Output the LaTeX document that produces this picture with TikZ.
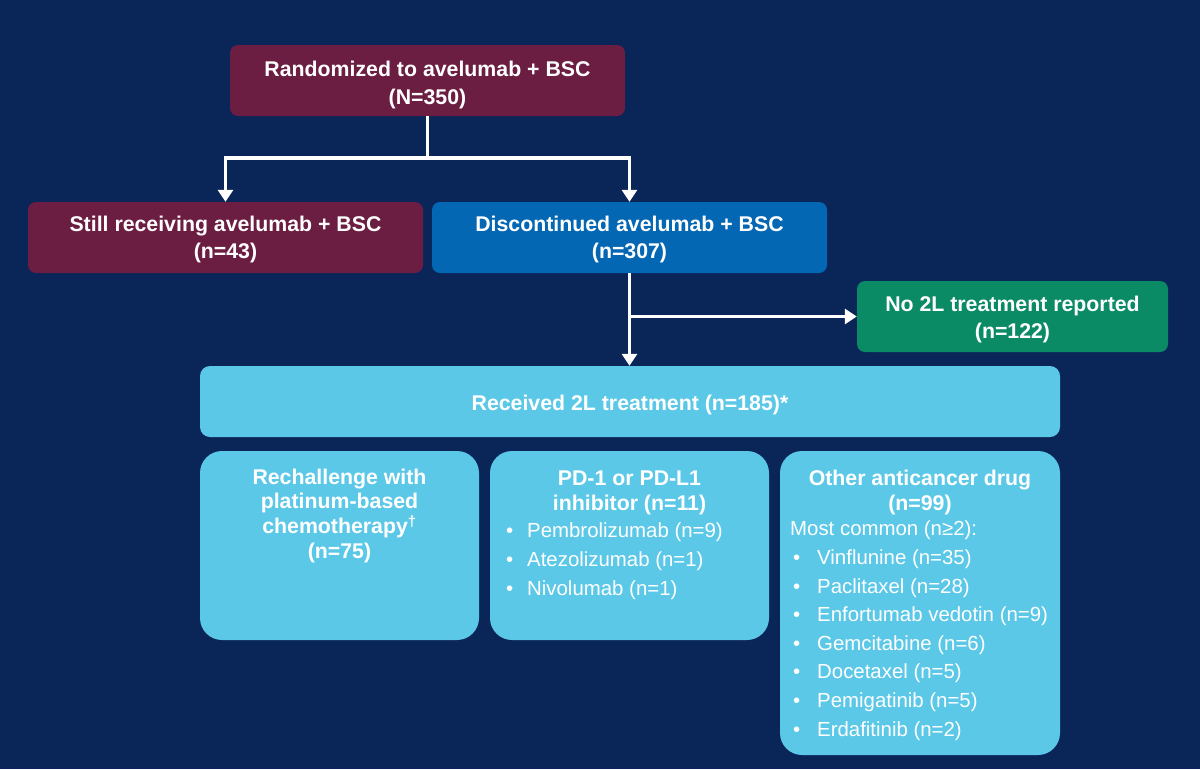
\documentclass[tikz,border=0pt]{standalone}
\usepackage{fontspec}
\setmainfont{Liberation Sans}
\usetikzlibrary{arrows.meta,calc}
\definecolor{bg}{HTML}{0A2558}
\definecolor{maroon}{HTML}{6B1E42}
\definecolor{dblue}{HTML}{0467B3}
\definecolor{dgreen}{HTML}{0B8A66}
\definecolor{lblue}{HTML}{5BC8E8}
\begin{document}
\begin{tikzpicture}[x=1pt,y=-1pt,
  box/.style={rounded corners=8pt, inner sep=0pt},
  bigbox/.style={rounded corners=22pt, inner sep=0pt, fill=lblue},
  head/.style={anchor=base, inner sep=0pt, text=white, align=center,
    font=\bfseries\fontsize{21.3}{27.5}\selectfont},
  title/.style={anchor=base, inner sep=0pt, text=white, align=center,
    font=\bfseries\fontsize{21.3}{24.8}\selectfont},
  list/.style={anchor=base west, inner sep=0pt, text=white, align=left,
    font=\fontsize{20.4}{28.6}\selectfont},
  conn/.style={draw=white, line width=3.5pt, -{Triangle[width=15pt,length=12pt]}}]
\fill[bg] (0,0) rectangle (1200,769);
\useasboundingbox (0,0) rectangle (1200,769);

\node[box, fill=maroon, minimum width=395pt, minimum height=71pt] (top) at (427.5,80.5) {};
\node[box, fill=maroon, minimum width=395pt, minimum height=71pt] (still) at (225.5,237.5) {};
\node[box, fill=dblue, minimum width=395pt, minimum height=71pt] (disc) at (629.5,237.5) {};
\node[box, fill=dgreen, minimum width=311pt, minimum height=71pt] (nol) at (1012.5,316.5) {};
\node[box, rounded corners=10pt, fill=lblue, minimum width=860pt, minimum height=71pt] (recv) at (630,401.5) {};

\node[head] (ttop) at (427.5,104) {Randomized to avelumab + BSC\\(N=350)};
\node[head] (tstill) at (225.5,258.5) {Still receiving avelumab + BSC\\(n=43)};
\node[head] (tdisc) at (629.5,258.5) {Discontinued avelumab + BSC\\(n=307)};
\node[head] (tnol) at (1012.5,338.5) {No 2L treatment reported\\(n=122)};
\node[head] (trecv) at (630,410) {Received 2L treatment (n=185)*};

\node[bigbox, minimum width=279pt, minimum height=189pt] (b1) at (339.5,545.5) {};
\node[bigbox, minimum width=279pt, minimum height=189pt] (b2) at (629.5,545.5) {};
\node[bigbox, minimum width=280pt, minimum height=304pt] (b3) at (920,603) {};

\node[title] (t1) at (339.5,558.5) {Rechallenge with\\platinum-based\\chemotherapy\textsuperscript{†}\\(n=75)};
\node[title] (t2) at (629.5,510) {PD-1 or PD-L1\\inhibitor (n=11)};
\node[title] (t3) at (920,510) {Other anticancer drug\\(n=99)};

\node[list] (l2) at (503,595) {\makebox[24pt][l]{\hspace*{3pt}•}Pembrolizumab (n=9)\\
  \makebox[24pt][l]{\hspace*{3pt}•}Atezolizumab (n=1)\\
  \makebox[24pt][l]{\hspace*{3pt}•}Nivolumab (n=1)};
\node[list] (l3) at (790,736) {Most common (n≥2):\\
  \makebox[27pt][l]{\hspace*{3pt}•}Vinflunine (n=35)\\
  \makebox[27pt][l]{\hspace*{3pt}•}Paclitaxel (n=28)\\
  \makebox[27pt][l]{\hspace*{3pt}•}Enfortumab vedotin (n=9)\\
  \makebox[27pt][l]{\hspace*{3pt}•}Gemcitabine (n=6)\\
  \makebox[27pt][l]{\hspace*{3pt}•}Docetaxel (n=5)\\
  \makebox[27pt][l]{\hspace*{3pt}•}Pemigatinib (n=5)\\
  \makebox[27pt][l]{\hspace*{3pt}•}Erdafitinib (n=2)};

\coordinate (split) at ($(top.south)+(0,42)$);
\draw[conn] (top.south) -- (split) -| (still.north);
\draw[conn] (split) -| (disc.north);
\draw[conn] (disc.south) -- (disc.south |- recv.north);
\draw[conn] (disc.south |- nol.west) -- (nol.west);
\end{tikzpicture}
\end{document}
